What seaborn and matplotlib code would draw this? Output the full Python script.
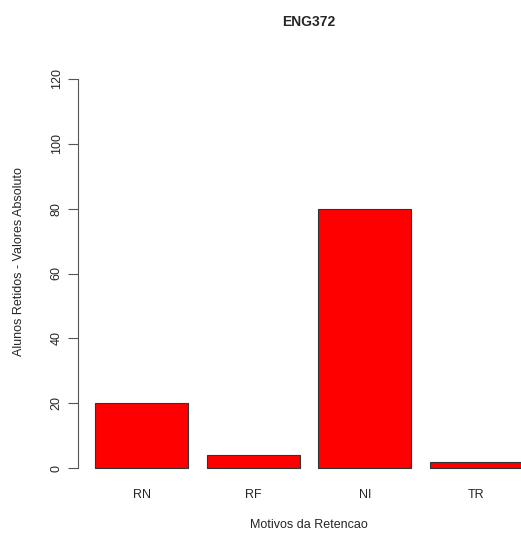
import matplotlib
matplotlib.use("Agg")
import matplotlib.pyplot as plt
import seaborn as sns
import pandas as pd

# dados
motivos = ["RN", "RF", "NI", "TR"]
alunos = [20, 4, 80, 2]
yticks = [0, 20, 40, 60, 80, 100, 120]

df = pd.DataFrame({"motivo": motivos, "alunos": alunos})

sns.set_style("white")
plt.rcParams["font.family"] = ["Liberation Sans", "DejaVu Sans"]

W, H = 521, 534
fig = plt.figure(figsize=(W / 100, H / 100), dpi=100)
# regiao do grafico (em pixels): x 77.9..540, y 63.4..483.6
ax = fig.add_axes([77.9 / W, (H - 483.6) / H, (540 - 77.9) / W, (483.6 - 63.4) / H])

sns.barplot(data=df, x="motivo", y="alunos", color="#ff0000", saturation=1,
            width=1 / 1.2, edgecolor="#333333", linewidth=0.8, ax=ax)

ax.set_xlim(-0.57, 3.57)
ax.set_ylim(-4.8, 124.8)
ax.set_yticks(yticks)
ax.set_yticklabels([str(t) for t in yticks], rotation=90, va="center", fontsize=9)
ax.tick_params(axis="y", left=True, length=7, width=0.8, color="#555555", pad=4)
ax.tick_params(axis="x", bottom=False, length=0, pad=4, labelsize=9)

for s in ["top", "right", "bottom"]:
    ax.spines[s].set_visible(False)
ax.spines["left"].set_bounds(0, 120)
ax.spines["left"].set_color("#555555")
ax.spines["left"].set_linewidth(0.8)

ax.set_xlabel("")
ax.set_ylabel("")
fig.text(309 / W, 1 - 22 / H, "ENG372", ha="center", va="center",
         fontsize=10, fontweight="bold")
fig.text(309 / W, 1 - 525 / H, "Motivos da Retencao", ha="center", va="center",
         fontsize=9)
fig.text(19 / W, 1 - 262 / H, "Alunos Retidos - Valores Absoluto", ha="center",
         va="center", rotation=90, fontsize=9)

fig.savefig("out.png", dpi=100)
